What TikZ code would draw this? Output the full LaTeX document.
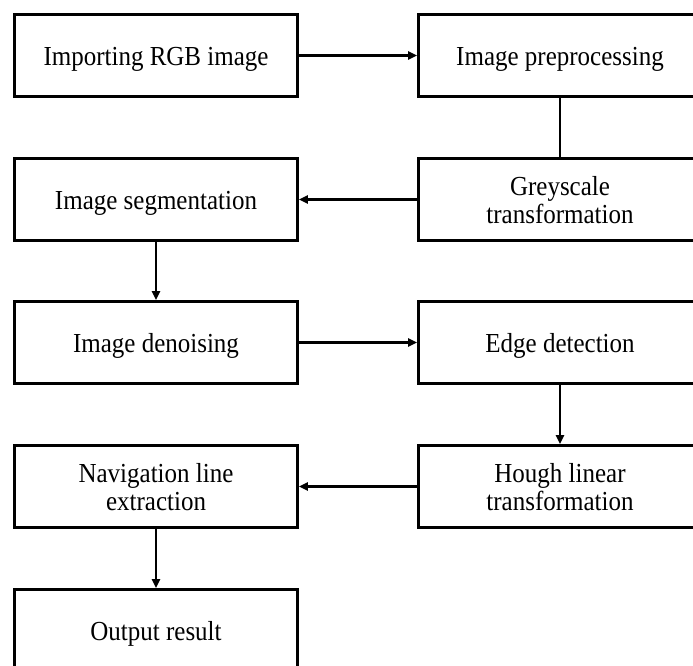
\documentclass[tikz,border=0pt]{standalone}
\usepackage{fontspec}
\usepackage{graphicx}
\setmainfont{Liberation Serif}
\usetikzlibrary{arrows.meta}
\newcommand{\boxtext}[1]{\raisebox{-4pt}[\height][\depth]{\scalebox{1}[1.1]{\begin{tabular}{@{}c@{}}#1\end{tabular}}}}
\begin{document}
\begin{tikzpicture}[x=1pt,y=-1pt,
  box/.style={draw=black, line width=2.8pt, fill=white, minimum width=283pt, minimum height=82pt,
    inner sep=0pt, align=center, font=\fontsize{25}{25.5}\selectfont},
  conn/.style={line width=2.8pt},
  arr/.style={conn, -{Triangle[length=9pt,width=8pt]}}]
\useasboundingbox (0,0) rectangle (693,666);
\clip (0,0) rectangle (693,666);
\node[box] (rgb) at (156,55.5) {\boxtext{Importing RGB image}};
\node[box] (pre) at (560,55.5) {\boxtext{Image preprocessing}};
\node[box] (grey) at (560,199.5) {\boxtext{Greyscale\\transformation}};
\node[box] (seg) at (156,199.5) {\boxtext{Image segmentation}};
\node[box] (den) at (156,342.5) {\boxtext{Image denoising}};
\node[box] (edge) at (560,342.5) {\boxtext{Edge detection}};
\node[box] (hough) at (560,486.5) {\boxtext{Hough linear\\transformation}};
\node[box] (nav) at (156,486.5) {\boxtext{Navigation line\\extraction}};
\node[box] (out) at (156,630.5) {\boxtext{Output result}};
\draw[arr] (rgb) -- (pre);
\draw[conn] (pre) -- (grey);
\draw[arr] (grey) -- (seg);
\draw[arr] (seg) -- (den);
\draw[arr] (den) -- (edge);
\draw[arr] (edge) -- (hough);
\draw[arr] (hough) -- (nav);
\draw[arr] (nav) -- (out);
\end{tikzpicture}
\end{document}
